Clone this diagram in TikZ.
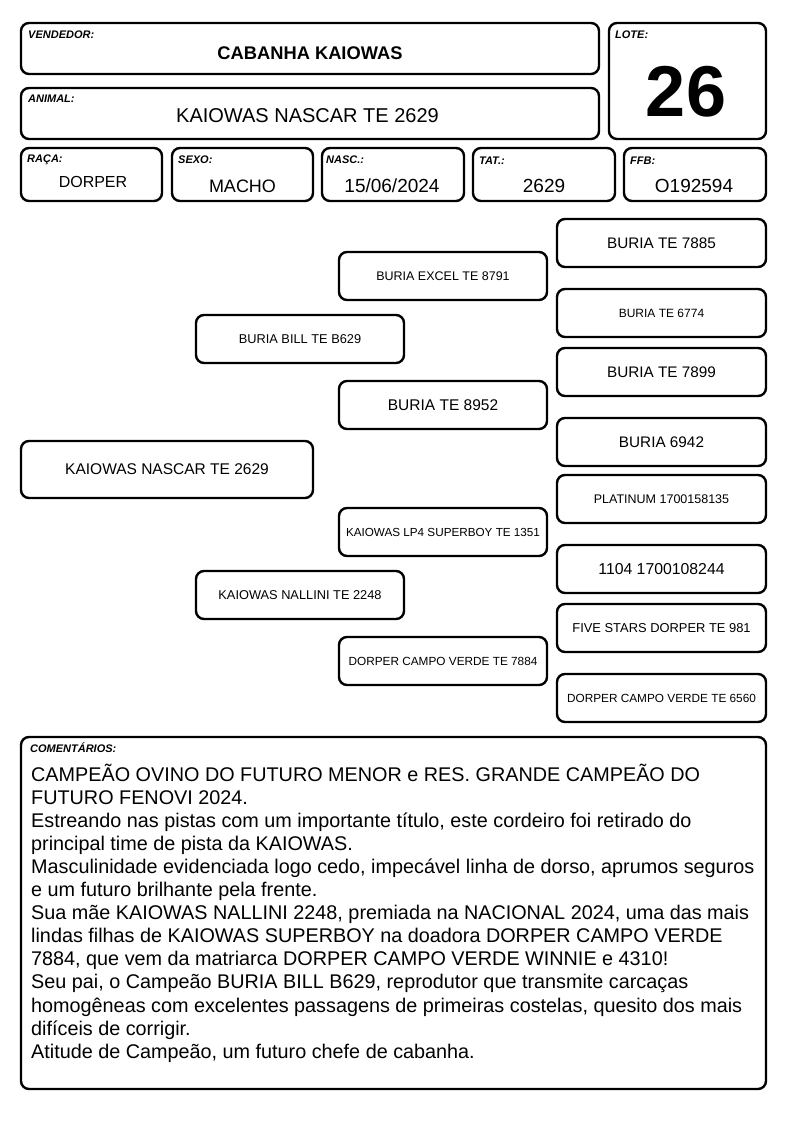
\documentclass[tikz,border=0pt]{standalone}
\usepackage{fontspec}
\setmainfont{Liberation Sans}

\begin{document}
\begin{tikzpicture}
[x=1pt,y=-1pt]
\tikzset{
	card/.style = {draw, line width=2.4pt, rounded corners=8pt, inner sep=0pt},
	ped/.style = {card, minimum width=208pt, minimum height=48pt},
	tag/.style = {anchor=base west, inner sep=0pt, font=\fontsize{11}{12}\selectfont\bfseries\itshape},
	val/.style = {inner sep=0pt, font=\fontsize{#1}{#1}\selectfont}
}
\useasboundingbox (0,0) rectangle (794,1123);

% header
\node(vend) [card, minimum width=578pt, minimum height=51pt] at (310,48.5) {};
\node(animal) [card, minimum width=578pt, minimum height=51pt] at (310,113.5) {};
\node(lote) [card, minimum width=157pt, minimum height=116pt] at (687.5,81) {};
\node(raca) [card, minimum width=141pt, minimum height=53pt] at (91.5,174.5) {};
\node(sexo) [card, minimum width=141pt, minimum height=53pt] at (242.5,174.5) {};
\node(nasc) [card, minimum width=142pt, minimum height=53pt] at (393,174.5) {};
\node(tat) [card, minimum width=142pt, minimum height=53pt] at (544,174.5) {};
\node(ffb) [card, minimum width=142pt, minimum height=53pt] at (695,174.5) {};

\node(vend-t) [tag] at (28,39) {VENDEDOR:};
\node(animal-t) [tag] at (28,103) {ANIMAL:};
\node(lote-t) [tag] at (615,39) {LOTE:};
\node(raca-t) [tag] at (27,163) {RAÇA:};
\node(sexo-t) [tag] at (178,164) {SEXO:};
\node(nasc-t) [tag] at (326,164) {NASC.:};
\node(tat-t) [tag] at (479,165) {TAT.:};
\node(ffb-t) [tag] at (630,165) {FFB:};

\node(vend-v) [val=18.3] at (310,53.5) {\bfseries CABANHA KAIOWAS};
\node(animal-v) [val=20] at (307.5,116) {KAIOWAS NASCAR TE 2629};
\node(lote-v) [val=72] at (686,92) {\bfseries 26};
\node(raca-v) [val=16] at (93,182) {DORPER};
\node(sexo-v) [val=18] at (242.5,186) {MACHO};
\node(nasc-v) [val=19] at (392,186) {15/06/2024};
\node(tat-v) [val=19] at (544,186) {2629};
\node(ffb-v) [val=19] at (694,186) {O192594};

% pedigree
\node(0) [card, minimum width=292pt, minimum height=57pt, val=15.5] at (167,469.5) {KAIOWAS NASCAR TE 2629};
\node(0-1) [ped, val=12.8] at (300,339) {BURIA BILL TE B629};
\node(0-2) [ped, val=12.8] at (300,595) {KAIOWAS NALLINI TE 2248};
\node(0-1-1) [ped, val=12.5] at (443,276) {BURIA EXCEL TE 8791};
\node(0-1-2) [ped, val=15.5] at (443,405) {BURIA TE 8952};
\node(0-2-1) [ped, val=11.7] at (443,532) {KAIOWAS LP4 SUPERBOY TE 1351};
\node(0-2-2) [ped, val=11.8] at (443,661) {DORPER CAMPO VERDE TE 7884};
\node(0-1-1-1) [ped, minimum width=209pt, val=15.3] at (661.5,243) {BURIA TE 7885};
\node(0-1-1-2) [ped, minimum width=209pt, val=12] at (661.5,313) {BURIA TE 6774};
\node(0-1-2-1) [ped, minimum width=209pt, val=15.3] at (661.5,372) {BURIA TE 7899};
\node(0-1-2-2) [ped, minimum width=209pt, val=15.3] at (661.5,442) {BURIA 6942};
\node(0-2-1-1) [ped, minimum width=209pt, val=12.5] at (661.5,499) {PLATINUM 1700158135};
\node(0-2-1-2) [ped, minimum width=209pt, val=15.8] at (661.5,569) {1104 1700108244};
\node(0-2-2-1) [ped, minimum width=209pt, val=12.9] at (661.5,628) {FIVE STARS DORPER TE 981};
\node(0-2-2-2) [ped, minimum width=209pt, val=11.8] at (661.5,698) {DORPER CAMPO VERDE TE 6560};

% comments
\node(cmt) [card, minimum width=745pt, minimum height=352pt] at (393.5,913) {};
\node(cmt-t) [tag] at (30,752) {COMENTÁRIOS:};
\foreach \line [count=\i] in {
	{CAMPEÃO OVINO DO FUTURO MENOR e RES. GRANDE CAMPEÃO DO},
	{FUTURO FENOVI 2024.},
	{Estreando nas pistas com um importante título, este cordeiro foi retirado do},
	{principal time de pista da KAIOWAS.},
	{Masculinidade evidenciada logo cedo, impecável linha de dorso, aprumos seguros},
	{e um futuro brilhante pela frente.},
	{Sua mãe KAIOWAS NALLINI 2248, premiada na NACIONAL 2024, uma das mais},
	{lindas filhas de KAIOWAS SUPERBOY na doadora DORPER CAMPO VERDE},
	{7884, que vem da matriarca DORPER CAMPO VERDE WINNIE e 4310!},
	{Seu pai, o Campeão BURIA BILL B629, reprodutor que transmite carcaças},
	{homogêneas com excelentes passagens de primeiras costelas, quesito dos mais},
	{difíceis de corrigir.},
	{Atitude de Campeão, um futuro chefe de cabanha.}}
	\node(cmt-\i) [val=19.8, anchor=base west] at (31,{781+23.1*(\i-1)}) {\line};
\end{tikzpicture}
\end{document}
